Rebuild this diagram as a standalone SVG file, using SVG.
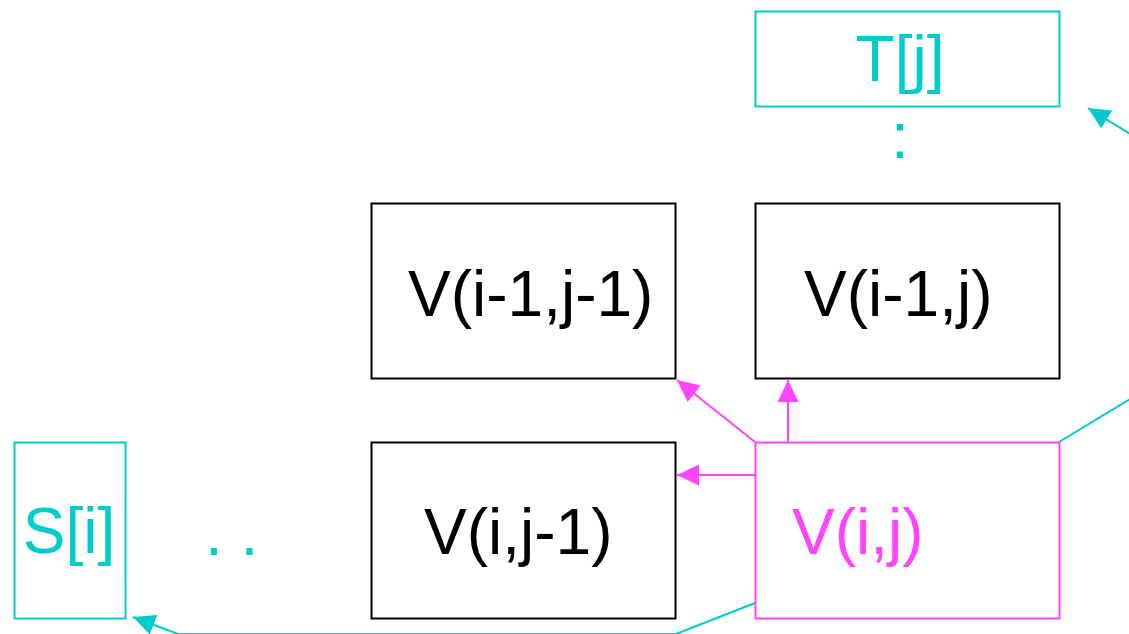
<svg xmlns="http://www.w3.org/2000/svg" width="1129" height="634" viewBox="0 0 1129 634">
<defs>
<style>
.box{fill:#fff;stroke:#000;stroke-width:2}
.cy{fill:none;stroke:#00CCCC;stroke-width:2}
.mg{fill:none;stroke:#FF44FF;stroke-width:2}
.t{font-family:"Liberation Sans",Arial,sans-serif;font-size:64px;fill:#000}
.tc{fill:#00CCCC}
.tm{fill:#FF44FF}
</style>
<marker id="am" viewBox="0 0 22 21" refX="22" refY="10.5" markerWidth="22" markerHeight="21" markerUnits="userSpaceOnUse" orient="auto">
<path d="M0,0 L22,10.5 L0,21 Z" fill="#FF44FF"/>
</marker>
<marker id="ac" viewBox="0 0 22 21" refX="22" refY="10.5" markerWidth="22" markerHeight="21" markerUnits="userSpaceOnUse" orient="auto">
<path d="M0,0 L22,10.5 L0,21 Z" fill="#00CCCC"/>
</marker>
</defs>
<rect width="1129" height="634" fill="#fff"/>
<g id="T_j">
<rect class="cy" x="755.5" y="11.5" width="304" height="95"/>
<text class="t tc" x="900" y="81" font-size="60" text-anchor="middle">T[j]</text>
</g>
<g id="colon">
<text class="t tc" x="900" y="158" font-size="60" text-anchor="middle">:</text>
</g>
<g id="V_im1_jm1">
<rect class="box" x="371.5" y="203.5" width="304" height="175"/>
<text class="t" x="408" y="316">V(i-1,j-1)</text>
</g>
<g id="V_im1_j">
<rect class="box" x="755.5" y="203.5" width="304" height="175"/>
<text class="t" x="804" y="316">V(i-1,j)</text>
</g>
<g id="S_i">
<rect class="cy" x="14.5" y="442.5" width="111" height="176"/>
<text class="t tc" x="69" y="553" font-size="58" text-anchor="middle">S[i]</text>
</g>
<g id="dots">
<text class="t tc" x="205" y="555" font-size="64">. .</text>
</g>
<g id="V_i_jm1">
<rect class="box" x="371.5" y="442.5" width="304" height="176"/>
<text class="t" x="424" y="554">V(i,j-1)</text>
</g>
<g id="V_i_j">
<rect class="mg" x="755.5" y="442.5" width="304" height="176"/>
<text class="t tm" x="792" y="554">V(i,j)</text>
</g>
<g id="connectors">
<line class="mg" x1="755" y1="442" x2="677" y2="380" marker-end="url(#am)"/>
<line class="mg" x1="788" y1="442" x2="788" y2="380" marker-end="url(#am)"/>
<line class="mg" x1="755" y1="475" x2="677" y2="475" marker-end="url(#am)"/>
<line class="cy" x1="1059" y1="442" x2="1140" y2="393"/>
<line class="cy" x1="1140" y1="140" x2="1088" y2="108" marker-end="url(#ac)"/>
<polyline class="cy" points="755,603 676,634 178,634 133,617" marker-end="url(#ac)"/>
</g>
</svg>
